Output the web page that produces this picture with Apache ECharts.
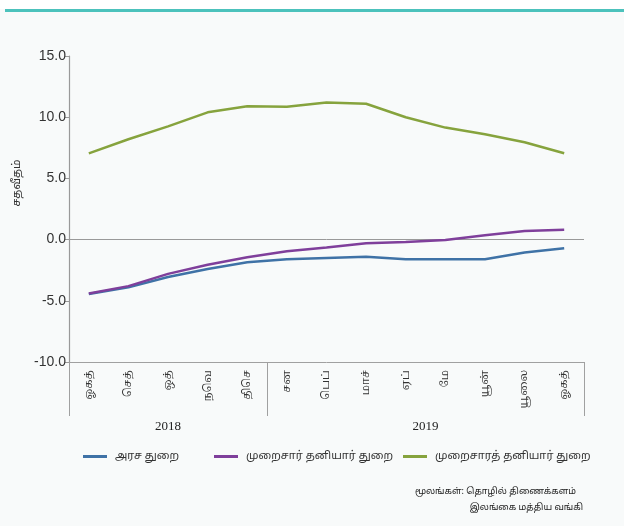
<!DOCTYPE html>
<html>
<head>
<meta charset="utf-8">
<script src="https://cdn.jsdelivr.net/npm/echarts@6/dist/echarts.min.js"></script>
<style>html,body{margin:0;padding:0;background:#f8fafa;}#c{width:624px;height:526px;}</style>
</head>
<body>
<div id="c"></div>
<script>
const months = ['ஓகத்','செத்','ஒத்','நவெ','திசெ','சன','பெப்','மாச்','ஏப்','மே','யூன்','யூலை','ஓகத்'];
const years = ['2018','2019'];
const yearSpans = [5, 8];
const seriesNames = ['அரச துறை','முறைசார் தனியார் துறை','முறைசாரத் தனியார் துறை'];
const govt = [-4.45,-3.9,-3.05,-2.4,-1.85,-1.6,-1.5,-1.4,-1.6,-1.6,-1.6,-1.05,-0.7];
const formalPrivate = [-4.4,-3.8,-2.8,-2.05,-1.45,-0.95,-0.65,-0.3,-0.2,-0.03,0.35,0.7,0.8];
const informalPrivate = [7.05,8.2,9.25,10.4,10.9,10.85,11.2,11.1,10.0,9.15,8.6,7.95,7.05];
const yTicks = {min:-10, max:15, step:5};
const yAxisTitle = 'சதவீதம்';
const sourceLines = ['மூலங்கள்: தொழில் திணைக்களம்','இலங்கை மத்திய வங்கி'];
const colors = ['#3f72a6','#7f3f9b','#86a33d'];

const bounds = [0];
yearSpans.forEach(s => bounds.push(bounds[bounds.length-1] + s));
const yearCenters = yearSpans.map((s,i) => bounds[i] + s/2);

const chart = echarts.init(document.getElementById('c'), null, {renderer:'canvas'});
const tamilFont = "'Noto Sans Tamil','Latha','Noto Sans',sans-serif";
const serifFont = "'Liberation Serif','Noto Serif Tamil','Times New Roman',serif";
const legendLefts = [83, 214, 403];
chart.setOption({
  backgroundColor:'#f8fafa',
  animation:false,
  color: colors,
  grid:{left:69, right:40, top:56, bottom:164, containLabel:false},
  legend: seriesNames.map((n,i)=>({
    data:[n], left:legendLefts[i], top:451, padding:0,
    icon:'rect', itemWidth:24, itemHeight:3, itemGap:10,
    textStyle:{fontSize:11, color:'#333', fontFamily:tamilFont, padding:[0,0,0,3]}
  })),
  xAxis:[{
    type:'category', data:months, boundaryGap:true,
    axisLine:{show:true, onZero:false, lineStyle:{color:'#a0a0a0', width:1}},
    axisTick:{show:false},
    axisLabel:{rotate:90, margin:8, fontSize:11, color:'#333', fontFamily:serifFont, interval:0}
  },{
    type:'value', position:'bottom', min:0, max:bounds[bounds.length-1],
    axisLine:{show:false, onZero:false}, splitLine:{show:false},
    axisTick:{show:true, customValues:bounds, length:54, lineStyle:{color:'#a0a0a0'}},
    axisLabel:{customValues:yearCenters, margin:58, fontSize:13, color:'#222', fontFamily:serifFont,
      formatter:(v)=>{const i=yearCenters.indexOf(v); return i>=0?years[i]:'';}}
  }],
  yAxis:{
    type:'value', min:yTicks.min, max:yTicks.max, interval:yTicks.step,
    axisLine:{show:true, onZero:false, lineStyle:{color:'#999999', width:1.2}},
    axisTick:{show:true, length:4, lineStyle:{color:'#999999'}},
    splitLine:{show:false},
    axisLabel:{formatter:v=>v.toFixed(1), fontSize:14, color:'#333', margin:3, fontFamily:"'Liberation Sans',Arial,sans-serif"}
  },
  series:[
    {name:seriesNames[0], type:'line', data:govt, symbol:'none', lineStyle:{width:2.5}, z:3,
     markLine:{silent:true, symbol:'none', label:{show:false}, lineStyle:{color:'#999', width:1, type:'solid'}, data:[{yAxis:0}], z:1}},
    {name:seriesNames[1], type:'line', data:formalPrivate, symbol:'none', lineStyle:{width:2.5}, z:4},
    {name:seriesNames[2], type:'line', data:informalPrivate, symbol:'none', lineStyle:{width:2.5}, z:3}
  ],
  graphic:[
    {type:'rect', shape:{x:0,y:0,width:624,height:9}, style:{fill:'#ffffff'}, silent:true, z:-10},
    {type:'rect', shape:{x:5,y:9,width:619,height:3}, style:{fill:'#4cc2bc'}, silent:true},
    {type:'text', x:18, y:183, rotation:Math.PI/2, style:{text:yAxisTitle, fontSize:11, fill:'#333', fontFamily:tamilFont, align:'center', verticalAlign:'middle'}},
    {type:'text', x:576, y:492, style:{text:sourceLines[0], fontSize:9, fill:'#222', fontFamily:tamilFont, align:'right', verticalAlign:'middle'}},
    {type:'text', x:583, y:508, style:{text:sourceLines[1], fontSize:9, fill:'#222', fontFamily:tamilFont, align:'right', verticalAlign:'middle'}}
  ]
});
</script>
</body>
</html>
